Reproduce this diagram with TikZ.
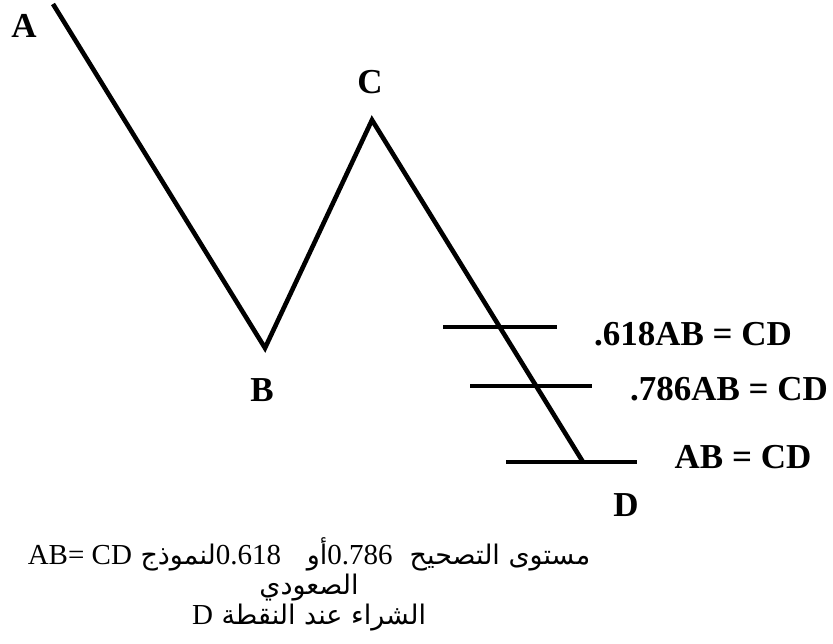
\documentclass[tikz,border=0pt]{standalone}
\usepackage{fontspec}
\setmainfont{Liberation Serif}
\newfontfamily\arabicfont[Script=Arabic,Scale=0.93]{DejaVu Sans}
\TeXXeTstate=1
\usetikzlibrary{positioning, calc}

\begin{document}
\begin{tikzpicture}[
  x=1pt, y=-1pt,
  leg/.style={line width=4.6pt, line join=miter},
  level/.style={line width=3.6pt},
  pt/.style={font=\fontsize{35}{40}\selectfont\bfseries, inner sep=0pt},
  ratio/.style={font=\fontsize{35}{40}\selectfont\bfseries, inner sep=0pt},
  note/.style={font=\fontsize{29}{30}\selectfont, inner sep=0pt, align=center}
]
\useasboundingbox (0,0) rectangle (833,643);

% turning points
\coordinate (A) at (53,4);
\coordinate (B) at (265,348);
\coordinate (C) at (372,120);
\coordinate (D) at (583,462);

\draw[leg] (A) -- (B) -- (C) -- (D);

% levels on the CD leg
\coordinate (l1a) at (443,327); \coordinate (l1b) at (557,327);
\coordinate (l2a) at (470,386); \coordinate (l2b) at (592,386);
\coordinate (l3a) at (506,462); \coordinate (l3b) at (637,462);
\draw[level] (l1a) -- (l1b);
\draw[level] (l2a) -- (l2b);
\draw[level] (l3a) -- (l3b);

\node[pt] (labA) at (24,26)  {A};
\node[pt] (labB) at (262,390) {B};
\node[pt] (labC) at (370,82)  {C};
\node[pt] (labD) at (626,505) {D};

\node[ratio] (r618) at (693,334) {.618AB = CD};
\node[ratio] (r786) at (729,389) {.786AB = CD};
\node[ratio] (r100) at (743,457) {AB = CD};

\node[note, anchor=base] (note) at (309,624)
  {\arabicfont\beginR مستوى التصحيح\ \ \beginL{\rmfamily 0.786}\endL أو\ \ \ \beginL{\rmfamily 0.618}\endL لنموذج \beginL{\rmfamily AB= CD}\endL\endR\\
   \arabicfont\beginR الصعودي\endR\\
   \arabicfont\beginR الشراء عند النقطة \beginL{\rmfamily D}\endL\endR};
\end{tikzpicture}
\end{document}
